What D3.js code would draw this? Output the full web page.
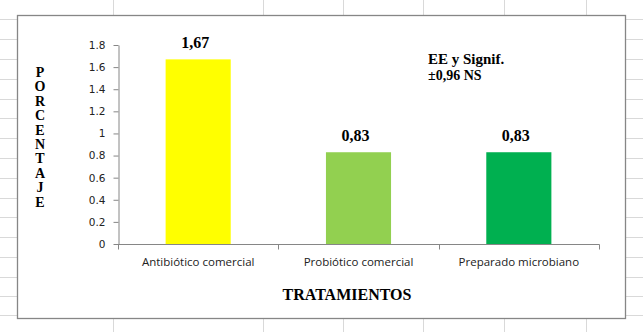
<!DOCTYPE html>
<html>
<head>
<meta charset="utf-8">
<script src="https://cdn.jsdelivr.net/npm/d3@7"></script>
<style>
  html, body { margin: 0; padding: 0; background: #fff; }
  svg { display: block; }
</style>
</head>
<body>
<div id="chart"></div>
<script>
const categories = ['Antibiótico comercial', 'Probiótico comercial', 'Preparado microbiano'];
const values     = [1.67, 0.83, 0.83];
const valueLabels = ['1,67', '0,83', '0,83'];
const barColors  = ['#ffff00', '#92d050', '#00b050'];
const yTicks     = [0, 0.2, 0.4, 0.6, 0.8, 1, 1.2, 1.4, 1.6, 1.8];
const yTitle     = 'PORCENTAJE';
const xTitle     = 'TRATAMIENTOS';
const noteLines  = ['EE y Signif.', '±0,96 NS'];

// spreadsheet backdrop
const sheetRows = [19, 39, 59, 79, 99, 118, 138, 158, 178, 198, 217, 237, 257, 277, 296, 315];
const sheetCols = [113, 263, 343, 423, 504, 586];

const W = 643, H = 332;
const box = { x: 17, y: 15, w: 608, h: 303 };
const plot = { left: 118, right: 599, top: 45, bottom: 244 };
const serif = 'Liberation Serif, Times New Roman, serif';

const svg = d3.select('#chart').append('svg').attr('width', W).attr('height', H);

// grid of the sheet behind the chart
svg.append('g').selectAll('line').data(sheetRows).join('line')
  .attr('x1', 0).attr('x2', W).attr('y1', d => d + .5).attr('y2', d => d + .5)
  .attr('stroke', '#d9d9d9');
svg.append('g').selectAll('line').data(sheetCols).join('line')
  .attr('x1', d => d + .5).attr('x2', d => d + .5).attr('y1', 0).attr('y2', H)
  .attr('stroke', '#d9d9d9');

svg.append('rect').attr('x', box.x + .5).attr('y', box.y + .5).attr('width', box.w).attr('height', box.h)
  .attr('fill', '#fff').attr('stroke', '#868686').attr('stroke-width', 1.3);

const x = d3.scaleBand().domain(categories).range([plot.left, plot.right]).padding(0);
const y = d3.scaleLinear().domain([0, 1.8]).range([plot.bottom, plot.top]);

// y axis
const yAx = svg.append('g').attr('transform', `translate(${plot.left + .5},0)`)
  .call(d3.axisLeft(y).tickValues(yTicks).tickSize(5).tickSizeOuter(0).tickPadding(8)
    .tickFormat(d => String(d)));
yAx.select('.domain').attr('stroke', '#868686');
yAx.selectAll('.tick line').attr('stroke', '#868686');
yAx.selectAll('.tick text').attr('font-family', 'DejaVu Sans, Verdana, sans-serif')
  .attr('font-size', 10.5).attr('fill', '#222');

// bars
const barW = x.bandwidth() * 0.406;
svg.append('g').selectAll('rect').data(categories).join('rect')
  .attr('x', d => x(d) + (x.bandwidth() - barW) / 2)
  .attr('y', (d, i) => y(values[i]))
  .attr('width', barW)
  .attr('height', (d, i) => y(0) - y(values[i]))
  .attr('fill', (d, i) => barColors[i]);

// x axis with Excel-style boundary ticks
const xAx = svg.append('g').attr('transform', `translate(0,${plot.bottom + .5})`);
xAx.append('line').attr('x1', plot.left).attr('x2', plot.right + .5)
  .attr('stroke', '#868686');
const bounds = categories.map(d => x(d)).concat([x(categories[categories.length - 1]) + x.bandwidth()]);
xAx.selectAll('line.t').data(bounds).join('line')
  .attr('x1', d => Math.round(d) + .5).attr('x2', d => Math.round(d) + .5)
  .attr('y1', 0).attr('y2', 5).attr('stroke', '#868686');
xAx.selectAll('text').data(categories).join('text')
  .attr('x', d => x(d) + x.bandwidth() / 2).attr('y', 21)
  .attr('text-anchor', 'middle').attr('font-family', 'Open Sans, Liberation Sans, sans-serif')
  .attr('font-size', 11.5).attr('fill', '#222').text(d => d);

// value labels
svg.append('g').selectAll('text').data(categories).join('text')
  .attr('x', d => x(d) + x.bandwidth() / 2 - 3)
  .attr('y', (d, i) => y(values[i]) - 11)
  .attr('text-anchor', 'middle').attr('font-family', serif)
  .attr('font-weight', 'bold').attr('font-size', 16).attr('fill', '#000')
  .text((d, i) => valueLabels[i]);

// note
svg.append('text').attr('x', 428).attr('y', 64)
  .attr('font-family', serif).attr('font-weight', 'bold')
  .attr('font-size', 15).text(noteLines[0]);
svg.append('text').attr('x', 428).attr('y', 80)
  .attr('font-family', serif).attr('font-weight', 'bold')
  .attr('font-size', 14).text(noteLines[1]);

// y title, one letter per line
svg.append('g').selectAll('text').data(yTitle.split('')).join('text')
  .attr('x', 40).attr('y', (d, i) => 77 + i * 14.4)
  .attr('text-anchor', 'middle').attr('font-family', serif)
  .attr('font-weight', 'bold').attr('font-size', 14).text(d => d);

// x title
svg.append('text').attr('x', 347).attr('y', 300).attr('text-anchor', 'middle')
  .attr('font-family', serif).attr('font-weight', 'bold')
  .attr('font-size', 16).text(xTitle);
</script>
</body>
</html>
